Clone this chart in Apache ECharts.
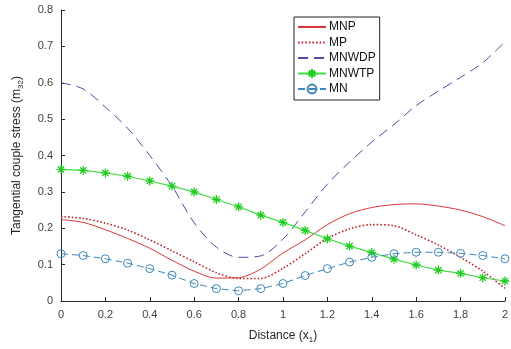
<!DOCTYPE html>
<html>
<head>
<meta charset="utf-8">
<script src="https://cdn.jsdelivr.net/npm/echarts@6/dist/echarts.min.js"></script>
<style>html,body{margin:0;padding:0;background:#fff;}#c{width:511px;height:349px;}</style>
</head>
<body>
<div id="c"></div>
<script>
var xs = [0,0.1,0.2,0.3,0.4,0.5,0.6,0.7,0.8,0.9,1.0,1.1,1.2,1.3,1.4,1.5,1.6,1.7,1.8,1.9,2.0];
var MNP   = [0.224,0.216,0.196,0.172,0.145,0.112,0.082,0.063,0.064,0.088,0.132,0.168,0.210,0.240,0.257,0.265,0.267,0.261,0.250,0.232,0.207];
var MP    = [0.232,0.227,0.214,0.195,0.168,0.138,0.108,0.078,0.062,0.062,0.090,0.130,0.172,0.198,0.210,0.207,0.182,0.154,0.120,0.082,0.035];
var MNWDP = [0.600,0.583,0.533,0.475,0.400,0.316,0.215,0.148,0.120,0.124,0.170,0.245,0.321,0.382,0.437,0.485,0.537,0.577,0.615,0.655,0.713];
var MNWTP = [0.362,0.359,0.352,0.343,0.330,0.316,0.300,0.279,0.259,0.236,0.216,0.194,0.171,0.151,0.133,0.115,0.099,0.085,0.076,0.064,0.055];
var MN    = [0.130,0.125,0.116,0.104,0.089,0.071,0.048,0.034,0.028,0.034,0.048,0.070,0.089,0.107,0.120,0.130,0.134,0.134,0.131,0.125,0.116];
var names = ['MNP','MP','MNWDP','MNWTP','MN'];
var xTicks = ['0','0.2','0.4','0.6','0.8','1','1.2','1.4','1.6','1.8','2'];
var yTicks = ['0','0.1','0.2','0.3','0.4','0.5','0.6','0.7','0.8'];

function pairs(ys){ return xs.map(function(x,i){ return [x, ys[i]]; }); }
var star = 'path://M5,0L5,10M0,5L10,5M1.5,1.5L8.5,8.5M8.5,1.5L1.5,8.5';
var txt = '#404040', axc = '#262626', font = 'Liberation Sans';
var clear = 'rgba(0,0,0,0)';

var chart = echarts.init(document.getElementById('c'), null, {renderer:'canvas'});
chart.setOption({
  animation:false,
  backgroundColor:'#fff',
  textStyle:{fontFamily:font},
  grid:{left:61, right:5.5, top:10, bottom:45.7},
  legend:{
    data:names, orient:'vertical', left:294, top:17,
    padding:[4,4,5,3], itemGap:3.5, itemWidth:28, itemHeight:11,
    borderColor:'#222', borderWidth:1, backgroundColor:'#fff',
    textStyle:{fontSize:12, color:'#111', fontFamily:font, padding:[0,0,0,-2]}
  },
  xAxis:{
    type:'value', min:0, max:2, interval:0.2,
    name:'Distance (x{sub|1})', nameLocation:'middle', nameGap:27,
    nameTextStyle:{fontSize:12, color:'#262626', rich:{sub:{fontSize:8, verticalAlign:'bottom', padding:[8,0,0,0]}}},
    axisLine:{lineStyle:{color:axc}},
    axisTick:{inside:true, length:4, lineStyle:{color:axc}},
    axisLabel:{fontSize:11, color:txt, margin:8, formatter:function(v){ return xTicks[Math.round(v/0.2)]; }},
    splitLine:{show:false}
  },
  yAxis:{
    type:'value', min:0, max:0.8, interval:0.1,
    name:'Tangential couple stress (m{sub|32})', nameLocation:'middle', nameGap:36,
    nameTextStyle:{fontSize:12, color:'#262626', rich:{sub:{fontSize:8, verticalAlign:'bottom', padding:[8,0,0,0]}}},
    axisLine:{show:true, lineStyle:{color:axc}},
    axisTick:{show:true, inside:true, length:4, lineStyle:{color:axc}},
    axisLabel:{fontSize:11, color:txt, margin:8, formatter:function(v){ return yTicks[Math.round(v/0.1)]; }},
    splitLine:{show:false}
  },
  series:[
    {name:'MNP', type:'line', data:pairs(MNP), symbol:'none', smooth:0.3,
     lineStyle:{color:'#d9363a', width:1}, itemStyle:{color:clear, borderColor:clear}},
    {name:'MP', type:'line', data:pairs(MP), symbol:'none', smooth:0.3,
     lineStyle:{color:'#c0272d', width:1.6, type:[1.6,2]}, itemStyle:{color:clear, borderColor:clear}},
    {name:'MNWDP', type:'line', data:pairs(MNWDP), symbol:'none', smooth:0.3,
     lineStyle:{color:'#4b4ba3', width:1, type:[10,6]}, itemStyle:{color:clear, borderColor:clear}},
    {name:'MNWTP', type:'line', data:pairs(MNWTP), symbol:star, symbolSize:9, showAllSymbol:true,
     lineStyle:{color:'#44dd44', width:1.2}, itemStyle:{color:'#22cc22', borderColor:'#22cc22', borderWidth:1.3}},
    {name:'MN', type:'line', data:pairs(MN), symbol:'circle', symbolSize:8, showAllSymbol:true,
     lineStyle:{color:'#3d88b8', width:1, type:[7,4]},
     itemStyle:{color:clear, borderColor:'#3d88b8', borderWidth:1}}
  ]
});
</script>
</body>
</html>
